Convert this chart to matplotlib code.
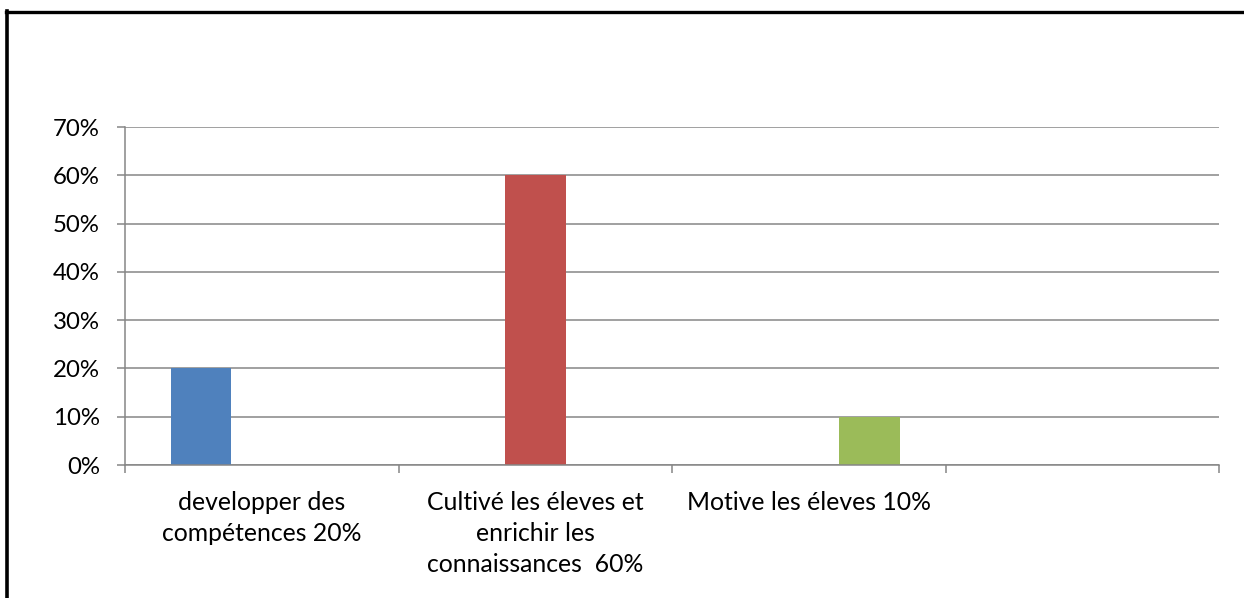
import matplotlib
matplotlib.use("Agg")
import matplotlib.pyplot as plt
from matplotlib.lines import Line2D
from matplotlib.ticker import FuncFormatter

FONTSIZE: float = 17.8

categories = [
    "developper des\ncompétences 20%",
    "Cultivé les éleves et\nenrichir les\nconnaissances  60%",
    "Motive les éleves 10%",
    "",
]
series_blue = [20, 0, 0, 0]
series_red = [0, 60, 0, 0]
series_green = [0, 0, 10, 0]
y_ticks = [0, 10, 20, 30, 40, 50, 60, 70]

COLORS = ["#4F81BD", "#C0504D", "#9BBB59"]
GRID = "#868686"


def main() -> None:
    plt.rcParams["font.family"] = ["Lato", "DejaVu Sans"]
    fig = plt.figure(figsize=(12.44, 5.98), dpi=100)
    W, H = 1244, 598
    ax = fig.add_axes([125 / W, 1 - 465 / H, (1219 - 125) / W, (465 - 127) / H])

    all_series = [series_blue, series_red, series_green]
    width = 1 / 4.5
    gap = width * 0.75
    for i, (vals, col) in enumerate(zip(all_series, COLORS)):
        xs = [c + gap + width * i + width / 2 for c in range(len(categories))]
        ax.bar(xs, vals, width=width, color=col, zorder=3)

    ax.set_xlim(0, len(categories))
    ax.set_ylim(0, 70)
    ax.set_yticks(y_ticks)
    ax.yaxis.set_major_formatter(FuncFormatter(lambda v, p: f"{v:.0f}%"))
    ax.grid(axis="y", color=GRID, linewidth=1.1, zorder=0)

    ax.set_xticks(range(len(categories) + 1))
    ax.set_xticklabels([])
    ax.set_xticks([c + 0.5 for c in range(len(categories))], minor=True)
    ax.set_xticklabels(categories, minor=True, fontsize=FONTSIZE, linespacing=1.42)
    ax.tick_params(axis="x", which="minor", length=0, pad=18.5)
    ax.tick_params(axis="x", which="major", length=5.5, width=1.1, color=GRID)
    ax.tick_params(axis="y", length=6, width=1.1, color=GRID, pad=12, labelsize=FONTSIZE - 0.5)

    for s in ["top", "right"]:
        ax.spines[s].set_visible(False)
    for s in ["left", "bottom"]:
        ax.spines[s].set_color(GRID)
        ax.spines[s].set_linewidth(1.1)
        ax.spines[s].set_zorder(4)

    # outer frame (top and left edges only)
    fig.add_artist(Line2D([6 / W, 1], [1 - 12 / H, 1 - 12 / H], color="black", linewidth=2.4))
    fig.add_artist(Line2D([7.5 / W, 7.5 / W], [1 - 11 / H, 0], color="black", linewidth=2.6))

    fig.savefig("out.png", dpi=100)


if __name__ == "__main__":
    main()
